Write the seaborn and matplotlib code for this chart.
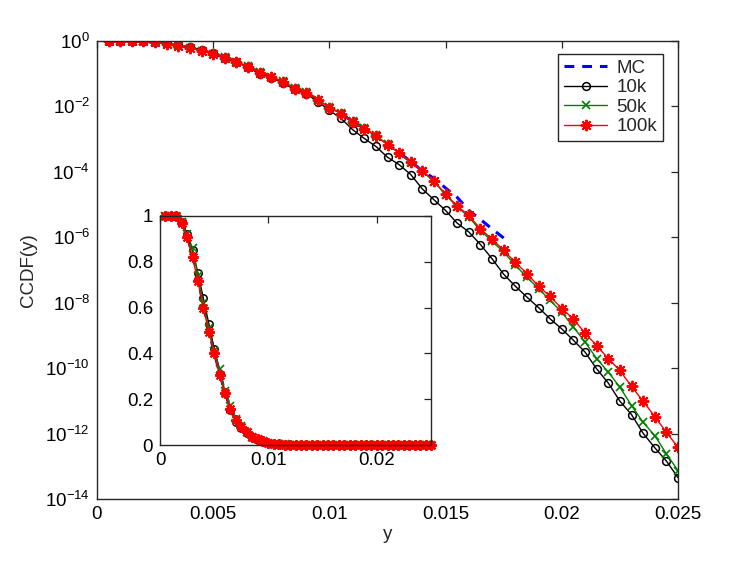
import numpy as np
import pandas as pd
import matplotlib
matplotlib.use("Agg")
import matplotlib.pyplot as plt
import seaborn as sns
from matplotlib.ticker import FuncFormatter, NullLocator

# ---------------- data ----------------
y_grid = [0.0005 * k for k in range(1, 51)]          # 0.0005 ... 0.025
y_mc = [0.0005 * k for k in range(1, 36)]            # 0.0005 ... 0.0175

ccdf_10k = [1.0, 1.0, 0.998, 0.975, 0.92, 0.85, 0.75, 0.64, 0.53, 0.42,
            0.31, 0.225, 0.155, 0.10, 7.6e-2, 5.2e-2, 3.3e-2, 2.4e-2, 1.4e-2, 7.6e-3,
            4.3e-3, 1.95e-3, 1.05e-3, 6.0e-4, 2.8e-4, 1.66e-4, 8.3e-5, 3.0e-5, 1.4e-5, 6.6e-6,
            2.7e-6, 1.45e-6, 6.0e-7, 2.2e-7, 7.4e-8, 3.2e-8, 1.48e-8, 7.1e-9, 3.2e-9, 1.58e-9,
            7.1e-10, 3.1e-10, 9.5e-11, 3.5e-11, 9.8e-12, 3.8e-12, 1.02e-12, 3.7e-13, 1.45e-13, 4.5e-14]

ccdf_50k = [1.0, 1.0, 0.998, 0.975, 0.92, 0.86, 0.74, 0.62, 0.51, 0.41,
            0.33, 0.235, 0.17, 0.115, 8.2e-2, 5.8e-2, 3.7e-2, 2.7e-2, 1.6e-2, 9.5e-3,
            6.2e-3, 3.5e-3, 2.2e-3, 1.3e-3, 7.0e-4, 3.7e-4, 1.95e-4, 1.05e-4, 5.0e-5, 2.0e-5,
            8.5e-6, 4.2e-6, 1.6e-6, 7.6e-7, 3.5e-7, 1.4e-7, 6.0e-8, 2.7e-8, 1.18e-8, 5.1e-9,
            1.8e-9, 6.3e-10, 1.95e-10, 7.6e-11, 2.6e-11, 7.2e-12, 2.2e-12, 8.7e-13, 2.4e-13, 7.4e-14]

ccdf_100k = [1.0, 1.0, 0.998, 0.97, 0.91, 0.82, 0.715, 0.60, 0.495, 0.40,
             0.305, 0.225, 0.158, 0.107, 7.9e-2, 5.6e-2, 3.5e-2, 2.6e-2, 1.55e-2, 9.1e-3,
             6.0e-3, 3.3e-3, 2.1e-3, 1.23e-3, 6.8e-4, 3.8e-4, 2.0e-4, 1.1e-4, 5.2e-5, 2.1e-5,
             8.9e-6, 4.7e-6, 1.8e-6, 8.7e-7, 4.0e-7, 1.7e-7, 7.8e-8, 3.2e-8, 1.55e-8, 6.6e-9,
             3.2e-9, 1.17e-9, 4.9e-10, 1.95e-10, 8.5e-11, 2.75e-11, 9.8e-12, 3.3e-12, 1.1e-12, 3.8e-13]

ccdf_mc = [1.0, 1.0, 0.998, 0.972, 0.915, 0.83, 0.73, 0.61, 0.50, 0.405,
           0.315, 0.23, 0.162, 0.11, 8.0e-2, 5.7e-2, 3.6e-2, 2.65e-2, 1.58e-2, 9.3e-3,
           6.1e-3, 3.4e-3, 2.15e-3, 1.27e-3, 7.0e-4, 3.9e-4, 2.05e-4, 1.07e-4, 6.3e-5, 3.2e-5,
           1.66e-5, 6.6e-6, 3.5e-6, 1.8e-6, 9.5e-7]

x_ticks = [0, 0.005, 0.01, 0.015, 0.02, 0.025]
y_tick_exp = [0, -2, -4, -6, -8, -10, -12, -14]
inset_x_ticks = [0, 0.01, 0.02]
inset_y_ticks = [0, 0.2, 0.4, 0.6, 0.8, 1.0]

# ---------------- style ----------------
sns.set_style("white")
plt.rcParams['font.family'] = ['Liberation Sans', 'DejaVu Sans']
plt.rcParams['mathtext.fontset'] = 'custom'
plt.rcParams['mathtext.rm'] = 'Liberation Sans'
plt.rcParams['mathtext.it'] = 'Liberation Sans:italic'
axc = '#262626'

fig = plt.figure(figsize=(7.47, 5.61), dpi=100)
ax = fig.add_axes([97/747, 1-499/561, (678-97)/747, (499-41)/561])
axi = fig.add_axes([160/747, 1-445/561, (431-160)/747, (445-216)/561])

df = pd.DataFrame({'y': y_grid, '10k': ccdf_10k, '50k': ccdf_50k, '100k': ccdf_100k})
dmc = pd.DataFrame({'y': y_mc, 'MC': ccdf_mc})

def draw(a, ms_scale=1.0):
    sns.lineplot(data=dmc, x='y', y='MC', ax=a, color='#0000ff', lw=2.2,
                 linestyle=(0, (3.2, 2.6)), label='MC', estimator=None, sort=False)
    sns.lineplot(data=df, x='y', y='10k', ax=a, color='black', lw=1.0,
                 marker='o', markersize=5.6*ms_scale, markerfacecolor='none',
                 markeredgecolor='black', markeredgewidth=1.1,
                 label='10k', estimator=None, sort=False)
    sns.lineplot(data=df, x='y', y='50k', ax=a, color='#008000', lw=1.0,
                 marker='x', markersize=6.0*ms_scale, markeredgecolor='#008000',
                 markeredgewidth=1.2, label='50k', estimator=None, sort=False)
    sns.lineplot(data=df, x='y', y='100k', ax=a, color='#ff0000', lw=1.0,
                 marker=(8, 2, 0), markersize=8.2*ms_scale, markeredgecolor='#ff0000',
                 markeredgewidth=1.4, label='100k', estimator=None, sort=False)

draw(ax)
draw(axi, 0.95)

fs = 13.5
for a in (ax, axi):
    for s in a.spines.values():
        s.set_color(axc)
        s.set_linewidth(1.0)
    a.tick_params(direction='in', which='both', top=True, right=True,
                  length=5, width=0.9, color=axc, labelsize=fs, labelcolor='black', pad=5)
    a.set_xlabel('')
    a.set_ylabel('')

# main axes
ax.set_yscale('log')
ax.set_xlim(0, 0.025)
ax.set_ylim(1e-14, 1.0)
ax.set_xticks(x_ticks)
ax.xaxis.set_major_formatter(FuncFormatter(lambda v, p: '%g' % v))
ax.set_yticks([10.0**e for e in y_tick_exp])
ax.set_yticklabels([r'$10^{%d}$' % e for e in y_tick_exp])
ax.yaxis.set_minor_locator(NullLocator())
ax.set_xlabel('y', fontsize=fs, labelpad=2)
ax.set_ylabel('CCDF(y)', fontsize=fs, labelpad=6)

leg = ax.legend(loc='upper right', bbox_to_anchor=(0.974, 0.971), borderaxespad=0,
                fontsize=fs, frameon=True, fancybox=False, framealpha=1,
                edgecolor=axc, handlelength=2.3, handletextpad=0.5,
                labelspacing=0.12, borderpad=0.3)
leg.get_frame().set_linewidth(1.0)

# inset
if axi.get_legend() is not None:
    axi.get_legend().remove()
axi.set_xlim(0, 0.025)
axi.set_ylim(0, 1.0)
axi.set_xticks(inset_x_ticks)
axi.set_yticks(inset_y_ticks)
axi.xaxis.set_major_formatter(FuncFormatter(lambda v, p: '%g' % v))
axi.yaxis.set_major_formatter(FuncFormatter(lambda v, p: '%g' % v))
axi.set_facecolor('white')
for ln in axi.lines:
    ln.set_clip_on(False)

fig.savefig('out.png', dpi=100)
